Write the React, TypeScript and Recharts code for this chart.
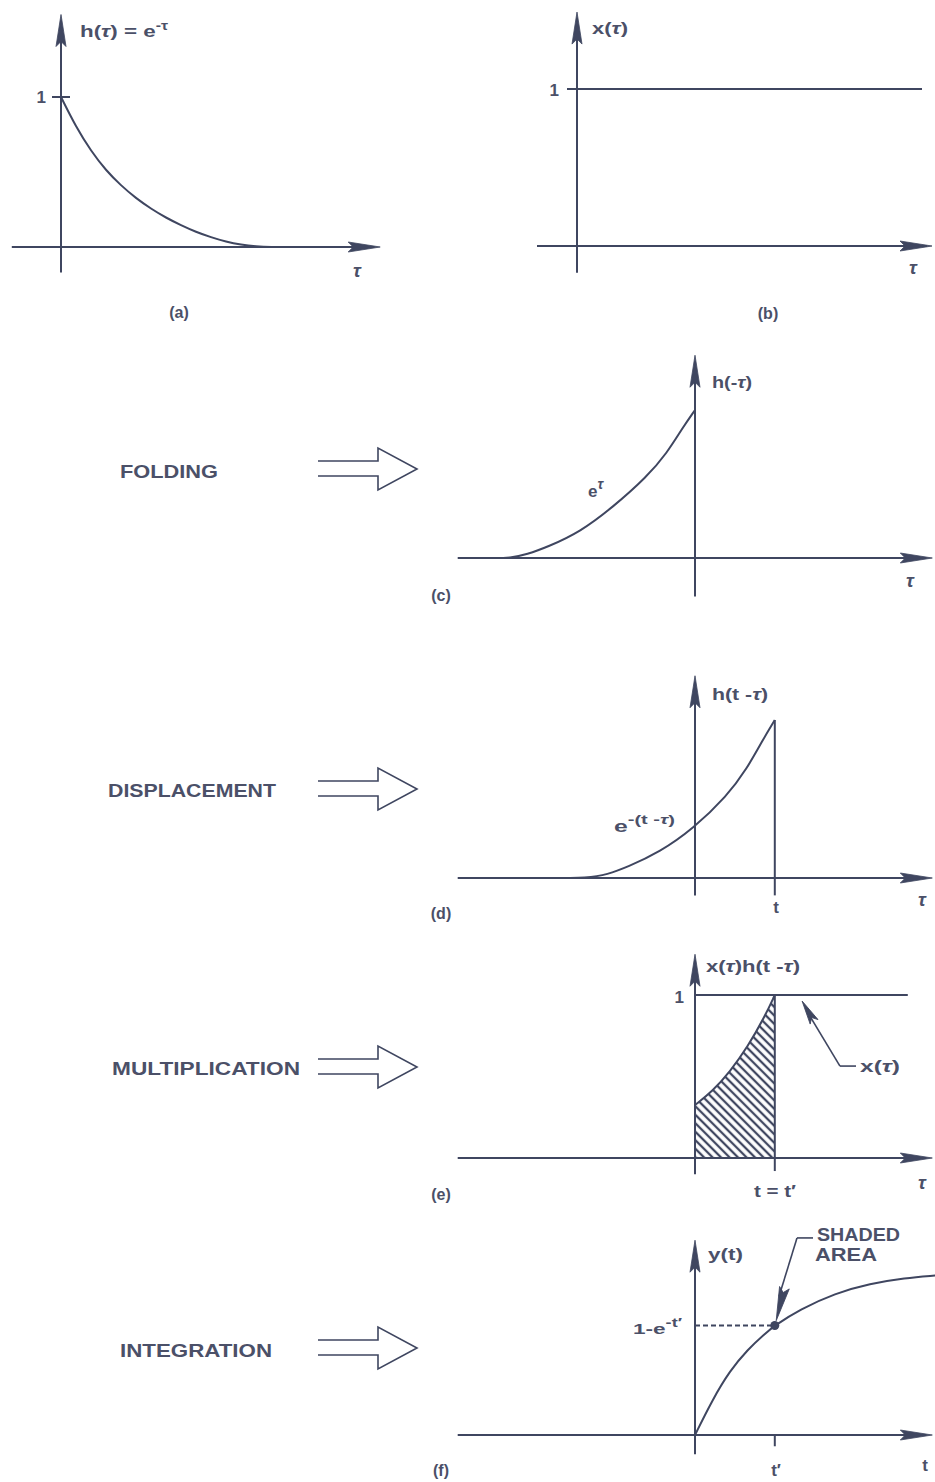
import React from 'react';
import { ComposedChart, Line, Area, XAxis, YAxis, ReferenceLine, ReferenceDot } from 'recharts';

const INK = '#3f4660';
const TEXT = '#4b5068';
const FONT = '"Liberation Sans", Arial, Helvetica, sans-serif';

// (a) impulse response h(τ) = e^-τ
const tauA = [0, 0.25, 0.5, 0.75, 1, 1.25, 1.5, 1.75, 2, 2.25, 2.5, 2.75, 3, 3.25, 3.5, 3.8];
const hA = [1, 0.8, 0.64, 0.51, 0.41, 0.325, 0.255, 0.195, 0.145, 0.1, 0.065, 0.035, 0.015, 0.004, 0, 0];

// (b) unit step input x(τ)
const tauB = [0, 6.9];
const xB = [1, 1];

// (c) folded response h(-τ)
const tauC = [-2.9, -2.64, -2.4, -2.11, -1.64, -1.17, -0.69, -0.4, -0.17, 0];
const hC = [0, 0, 0.025, 0.074, 0.176, 0.345, 0.547, 0.709, 0.885, 1];

// (d) displaced response h(t-τ)
const tShift = 1.14;
const tauD = [-2.2, -1.5, -1.26, -0.97, -0.5, -0.03, 0.46, 0.74, 0.97, 1.14];
const hD = [0, 0, 0.022, 0.068, 0.165, 0.31, 0.52, 0.69, 0.875, 1];

// (e) product x(τ)h(t-τ), non-zero on 0..t
const tauE = [0, 0.25, 0.5, 0.75, 1, 1.14];
const hE = [0.325, 0.41, 0.53, 0.68, 0.87, 1];
const tauStepE = [0, 3.04];
const stepE = [1, 1];

// (f) output y(t) = 1 - e^-t
const tF = [0, 0.25, 0.5, 0.75, 1, 1.14, 1.5, 2, 2.5, 3, 3.43];
const yF = [0, 0.22, 0.4, 0.53, 0.63, 0.68, 0.78, 0.88, 0.94, 0.975, 0.99];
const tPrime = 1.14;
const yPrime = 0.68;

type Frame = { left: number; top: number; width: number; height: number; ox: number; oy: number; ux: number; uy: number };

const frameA: Frame = { left: 0, top: 0, width: 400, height: 290, ox: 61, oy: 247, ux: 60, uy: 150 };
const frameB: Frame = { left: 520, top: 0, width: 415, height: 290, ox: 577, oy: 246, ux: 50, uy: 157 };
const frameC: Frame = { left: 440, top: 340, width: 495, height: 270, ox: 695, oy: 558, ux: 70, uy: 148 };
const frameD: Frame = { left: 440, top: 660, width: 495, height: 260, ox: 695, oy: 878, ux: 70, uy: 158 };
const frameE: Frame = { left: 440, top: 940, width: 495, height: 250, ox: 695, oy: 1158, ux: 70, uy: 163 };
const frameF: Frame = { left: 440, top: 1220, width: 495, height: 250, ox: 695, oy: 1435, ux: 70, uy: 161 };

// axis extents in data units: [start, arrow tip]
const extA = { x: [-0.82, 5.32], y: [-0.17, 1.55] };
const extB = { x: [-0.8, 7.1], y: [-0.17, 1.49] };
const extC = { x: [-3.39, 3.39], y: [-0.26, 1.37] };
const extD = { x: [-3.39, 3.39], y: [-0.11, 1.28] };
const extE = { x: [-3.39, 3.39], y: [-0.1, 1.25] };
const extF = { x: [-3.39, 3.39], y: [-0.12, 1.21] };

const domains = (f: Frame) => ({
  x: [(f.left - f.ox) / f.ux, (f.left + f.width - f.ox) / f.ux],
  y: [(f.oy - (f.top + f.height)) / f.uy, (f.oy - f.top) / f.uy],
});

const pts = (xs: number[], ys: number[]) => xs.map((x, i) => ({ x, y: ys[i] }));

const arrowShape = (angle: number, len = 32, half = 5) => (props: any) => {
  const { cx, cy } = props;
  if (cx == null || cy == null) return <g />;
  return (
    <path
      transform={`translate(${cx},${cy}) rotate(${angle})`}
      d={`M0,0 L${-len},${-half} L${-len + 5},0 L${-len},${half} Z`}
      fill={INK}
      stroke={INK}
      strokeWidth={0.8}
    />
  );
};

const seg = (key: string, x1: number, y1: number, x2: number, y2: number, extra: any = {}) => (
  <ReferenceLine
    key={key}
    segment={[{ x: x1, y: y1 }, { x: x2, y: y2 }]}
    stroke={INK}
    strokeWidth={2}
    ifOverflow="visible"
    {...extra}
  />
);

const axes = (key: string, ext: { x: number[]; y: number[] }) => [
  seg(key + '-xa', ext.x[0], 0, ext.x[1] - 0.1, 0),
  seg(key + '-ya', 0, ext.y[0], 0, ext.y[1] - 0.1),
  <ReferenceDot key={key + '-xh'} x={ext.x[1]} y={0} shape={arrowShape(0)} ifOverflow="visible" />,
  <ReferenceDot key={key + '-yh'} x={0} y={ext.y[1]} shape={arrowShape(-90)} ifOverflow="visible" />,
];

const curve = (key: string, data: { x: number; y: number }[], type: any = 'basis') => (
  <Line
    key={key}
    data={data}
    dataKey="y"
    type={type}
    stroke={INK}
    strokeWidth={2}
    dot={false}
    activeDot={false}
    isAnimationActive={false}
  />
);

function Panel({ frame, children }: { frame: Frame; children: React.ReactNode }) {
  const d = domains(frame);
  return (
    <div style={{ position: 'absolute', left: frame.left, top: frame.top }}>
      <ComposedChart width={frame.width} height={frame.height} margin={{ top: 0, right: 0, bottom: 0, left: 0 }}>
        <XAxis type="number" dataKey="x" domain={d.x as [number, number]} hide allowDataOverflow />
        <YAxis type="number" domain={d.y as [number, number]} hide allowDataOverflow />
        {children}
      </ComposedChart>
    </div>
  );
}

function Label({ x, y, w, size = 17, anchor = 'start', italic = false, children }: any) {
  return (
    <text
      x={x}
      y={y}
      fontSize={size}
      fontWeight={700}
      fontFamily={FONT}
      fill={TEXT}
      textAnchor={anchor}
      fontStyle={italic ? 'italic' : 'normal'}
      textLength={w}
      lengthAdjust={w ? 'spacingAndGlyphs' : undefined}
    >
      {children}
    </text>
  );
}

const Tau = () => <tspan fontStyle="italic">τ</tspan>;

const steps = [
  { name: 'FOLDING', x: 120, y: 478, w: 98, cy: 469 },
  { name: 'DISPLACEMENT', x: 108, y: 797, w: 168, cy: 789 },
  { name: 'MULTIPLICATION', x: 112, y: 1075, w: 188, cy: 1067 },
  { name: 'INTEGRATION', x: 120, y: 1357, w: 152, cy: 1348 },
];

const hollowArrow = (cy: number) =>
  `M318,${cy - 8} H378 V${cy - 21} L417,${cy} L378,${cy + 21} V${cy + 7} H318`;

export default function App() {
  return (
    <div style={{ position: 'absolute', left: 0, top: 0, width: 935, height: 1482, background: '#fff', overflow: 'hidden' }}>
      <svg width={0} height={0} style={{ position: 'absolute' }}>
        <defs>
          <pattern id="hatchE" patternUnits="userSpaceOnUse" width={6} height={6} patternTransform="rotate(-45)">
            <rect width={6} height={6} fill="#fff" />
            <line x1={3} y1={0} x2={3} y2={6} stroke={INK} strokeWidth={2.3} />
          </pattern>
        </defs>
      </svg>

      <Panel frame={frameA}>
        {axes('a', extA)}
        {seg('a-one', -0.15, 1, 0.15, 1)}
        {curve('a-h', pts(tauA, hA))}
      </Panel>

      <Panel frame={frameB}>
        {axes('b', extB)}
        {seg('b-one', -0.2, 1, 0, 1)}
        {curve('b-x', pts(tauB, xB), 'linear')}
      </Panel>

      <Panel frame={frameC}>
        {axes('c', extC)}
        {curve('c-h', pts(tauC, hC))}
      </Panel>

      <Panel frame={frameD}>
        {axes('d', extD)}
        {seg('d-t', tShift, -0.11, tShift, 1)}
        {curve('d-h', pts(tauD, hD))}
      </Panel>

      <Panel frame={frameE}>
        <Area
          data={pts(tauE, hE)}
          dataKey="y"
          type="basis"
          stroke={INK}
          strokeWidth={2}
          fill="url(#hatchE)"
          fillOpacity={1}
          baseValue={0}
          dot={false}
          activeDot={false}
          isAnimationActive={false}
        />
        {axes('e', extE)}
        {seg('e-t', tShift, -0.08, tShift, 1)}
        {curve('e-x', pts(tauStepE, stepE), 'linear')}
        {seg('e-lead1', 2.3, 0.564, 2.071, 0.564, { strokeWidth: 1.6 })}
        {seg('e-lead2', 2.071, 0.564, 1.6, 0.9, { strokeWidth: 1.6 })}
        <ReferenceDot x={1.53} y={0.963} shape={arrowShape(-120, 24, 4.5)} ifOverflow="visible" />
      </Panel>

      <Panel frame={frameF}>
        {axes('f', extF)}
        {seg('f-tick', tPrime, 0, tPrime, -0.07)}
        {seg('f-dash', 0, yPrime, tPrime, yPrime, { strokeDasharray: '5 3', strokeWidth: 2.2 })}
        {curve('f-y', pts(tF, yF))}
        <ReferenceDot
          x={tPrime}
          y={yPrime}
          shape={(p: any) => <circle cx={p.cx} cy={p.cy} r={4.5} fill={INK} />}
          ifOverflow="visible"
        />
        {seg('f-lead1', 1.686, 1.224, 1.457, 1.224, { strokeWidth: 1.6 })}
        {seg('f-lead2', 1.457, 1.224, 1.2, 0.86, { strokeWidth: 1.6 })}
        <ReferenceDot x={1.16} y={0.71} shape={arrowShape(104, 34, 5)} ifOverflow="visible" />
      </Panel>

      <svg width={935} height={1482} style={{ position: 'absolute', left: 0, top: 0, pointerEvents: 'none' }}>
        {/* (a) */}
        <Label x={80} y={37} w={88}>
          h(<Tau />) = e<tspan dy={-7} fontSize={12}>-τ</tspan>
        </Label>
        <Label x={46} y={103} size={17} anchor="end">1</Label>
        <Label x={357} y={277} size={19} anchor="middle" italic>τ</Label>
        <Label x={179} y={318} size={16} anchor="middle">(a)</Label>

        {/* (b) */}
        <Label x={592} y={34} w={36}>
          x(<Tau />)
        </Label>
        <Label x={559} y={96} size={17} anchor="end">1</Label>
        <Label x={913} y={274} size={19} anchor="middle" italic>τ</Label>
        <Label x={768} y={319} size={16} anchor="middle">(b)</Label>

        {/* (c) */}
        <Label x={712} y={388} size={16} w={40}>
          h(-<Tau />)
        </Label>
        <Label x={588} y={497} size={17}>
          e<tspan dy={-8} fontSize={14} fontStyle="italic">τ</tspan>
        </Label>
        <Label x={910} y={587} size={19} anchor="middle" italic>τ</Label>
        <Label x={441} y={601} size={16} anchor="middle">(c)</Label>

        {/* (d) */}
        <Label x={712} y={700} size={16} w={56}>
          h(t -<Tau />)
        </Label>
        <Label x={614} y={832} size={16} w={61}>
          e<tspan dy={-8} fontSize={13}>-(t -</tspan><tspan fontSize={13} fontStyle="italic">τ</tspan><tspan fontSize={13}>)</tspan>
        </Label>
        <Label x={776} y={913} size={17} anchor="middle">t</Label>
        <Label x={922} y={906} size={19} anchor="middle" italic>τ</Label>
        <Label x={441} y={919} size={16} anchor="middle">(d)</Label>

        {/* (e) */}
        <Label x={706} y={972} size={16} w={94}>
          x(<Tau />)h(t -<Tau />)
        </Label>
        <Label x={684} y={1003} size={17} anchor="end">1</Label>
        <Label x={860} y={1072} size={16} w={40}>
          x(<Tau />)
        </Label>
        <Label x={775} y={1197} size={16} anchor="middle" w={42}>t = t′</Label>
        <Label x={922} y={1189} size={19} anchor="middle" italic>τ</Label>
        <Label x={441} y={1200} size={16} anchor="middle">(e)</Label>

        {/* (f) */}
        <Label x={708} y={1260} size={17} w={35}>y(t)</Label>
        <Label x={817} y={1241} size={18} w={83}>SHADED</Label>
        <Label x={815} y={1261} size={18} w={62}>AREA</Label>
        <Label x={633} y={1334} size={15} w={49}>
          1-e<tspan dy={-7} fontSize={12}>-t′</tspan>
        </Label>
        <Label x={776} y={1476} size={17} anchor="middle">t′</Label>
        <Label x={925} y={1471} size={17} anchor="middle">t</Label>
        <Label x={441} y={1476} size={16} anchor="middle">(f)</Label>

        {/* operation names and arrows */}
        {steps.map((s) => (
          <g key={s.name}>
            <Label x={s.x} y={s.y} size={18} w={s.w}>{s.name}</Label>
            <path d={hollowArrow(s.cy)} fill="none" stroke={INK} strokeWidth={1.6} strokeLinejoin="miter" />
          </g>
        ))}
      </svg>
    </div>
  );
}
